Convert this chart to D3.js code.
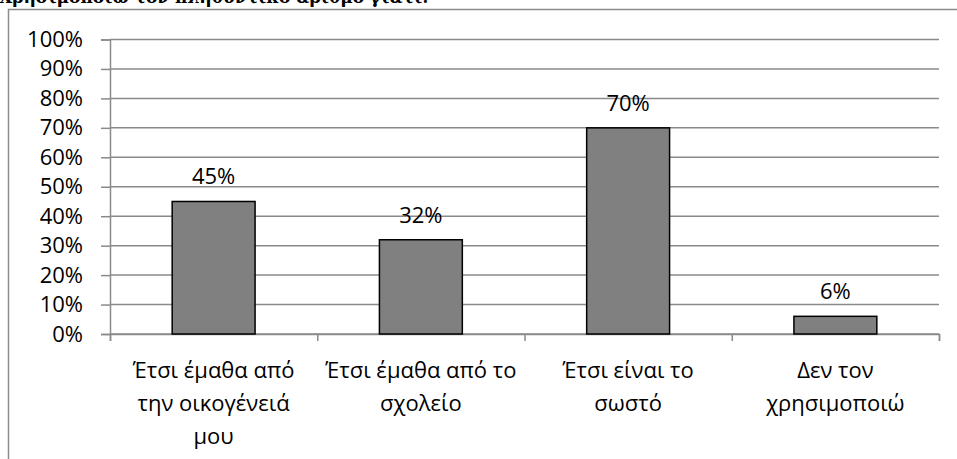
<!DOCTYPE html>
<html>
<head>
<meta charset="utf-8">
<script src="https://cdn.jsdelivr.net/npm/d3@7"></script>
<style>
  body { margin: 0; background: #fff; }
  svg { display: block; }
  text { font-family: "Open Sans", "Noto Sans", sans-serif; fill: #000; }
</style>
</head>
<body>
<div id="chart"></div>
<script>
const width = 957, height = 459;

// data
const title = "Χρησιμοποιώ τον πληθυντικό αριθμό γιατί:";
const categories = ["family", "school", "correct", "notUsed"];
const categoryLines = [
    ["Έτσι έμαθα από", "την οικογένειά", "μου"],
    ["Έτσι έμαθα από το", "σχολείο"],
    ["Έτσι είναι το", "σωστό"],
    ["Δεν τον", "χρησιμοποιώ"]
];
const values = [45, 32, 70, 6];
const yTicks = [0, 10, 20, 30, 40, 50, 60, 70, 80, 90, 100];

const margin = {left: 110, right: 18, top: 39.5, bottom: 125};
const fontSize = "22px";

const svg = d3.select("#chart").append("svg")
    .attr("width", width)
    .attr("height", height);

// chart frame
svg.append("path")
    .attr("d", "M8.5," + height + "V9.5H" + width)
    .attr("fill", "none")
    .attr("stroke", "#8c8c8c")
    .attr("stroke-width", 1.5);

// title (partly cut off at top, as in the source)
svg.append("text")
    .attr("x", -1)
    .attr("y", 3)
    .style("font-family", "'DejaVu Serif', 'Liberation Serif', serif")
    .style("font-weight", "bold")
    .style("font-size", "17px")
    .text(title);

const x = d3.scaleBand()
    .domain(categories)
    .range([margin.left, width - margin.right])
    .paddingInner(0.6)
    .paddingOuter(0.3);

const xEdge = d3.scaleLinear()
    .domain([0, categories.length])
    .range([margin.left, width - margin.right]);

const y = d3.scaleLinear()
    .domain([0, 100])
    .range([height - margin.bottom, margin.top]);

// gridlines
svg.append("g")
    .selectAll("line")
    .data(yTicks)
    .enter().append("line")
    .attr("x1", margin.left)
    .attr("x2", width - margin.right)
    .attr("y1", d => y(d))
    .attr("y2", d => y(d))
    .attr("stroke", "#8a8a8a")
    .attr("stroke-width", 1.5);

// y axis
const yAxis = svg.append("g")
    .attr("transform", "translate(" + margin.left + ",0)")
    .call(d3.axisLeft(y).tickValues(yTicks).tickSize(9).tickPadding(18).tickFormat(d => d + "%"));
yAxis.selectAll("line, path").attr("stroke", "#8a8a8a").attr("stroke-width", 1.5);
yAxis.selectAll("text").style("font-size", fontSize).style("font-family", "'Open Sans', sans-serif").attr("fill", "#000");

// x axis (ticks between categories)
const xAxis = svg.append("g")
    .attr("transform", "translate(0," + y(0) + ")")
    .call(d3.axisBottom(xEdge).ticks(categories.length).tickSize(7).tickSizeOuter(7).tickFormat(""));
xAxis.selectAll("line, path").attr("stroke", "#8a8a8a").attr("stroke-width", 1.5);

// bars
svg.append("g")
    .selectAll("rect")
    .data(values)
    .enter().append("rect")
    .attr("x", (d, i) => x(categories[i]))
    .attr("width", x.bandwidth())
    .attr("y", d => y(d))
    .attr("height", d => y(0) - y(d))
    .attr("fill", "#808080")
    .attr("stroke", "#000")
    .attr("stroke-width", 1.5);

// value labels
svg.append("g")
    .selectAll("text")
    .data(values)
    .enter().append("text")
    .attr("x", (d, i) => x(categories[i]) + x.bandwidth() / 2)
    .attr("y", d => y(d) - 17)
    .attr("text-anchor", "middle")
    .style("font-size", fontSize)
    .text(d => d + "%");

// category labels
const catLabels = svg.append("g")
    .selectAll("text")
    .data(categoryLines)
    .enter().append("text")
    .attr("text-anchor", "middle")
    .style("font-size", fontSize)
    .attr("transform", (d, i) => "translate(" + (x(categories[i]) + x.bandwidth() / 2) + "," + (y(0) + 44) + ")");

catLabels.selectAll("tspan")
    .data(d => d)
    .enter().append("tspan")
    .attr("x", 0)
    .attr("y", (d, i) => i * 33)
    .text(d => d);
</script>
</body>
</html>
